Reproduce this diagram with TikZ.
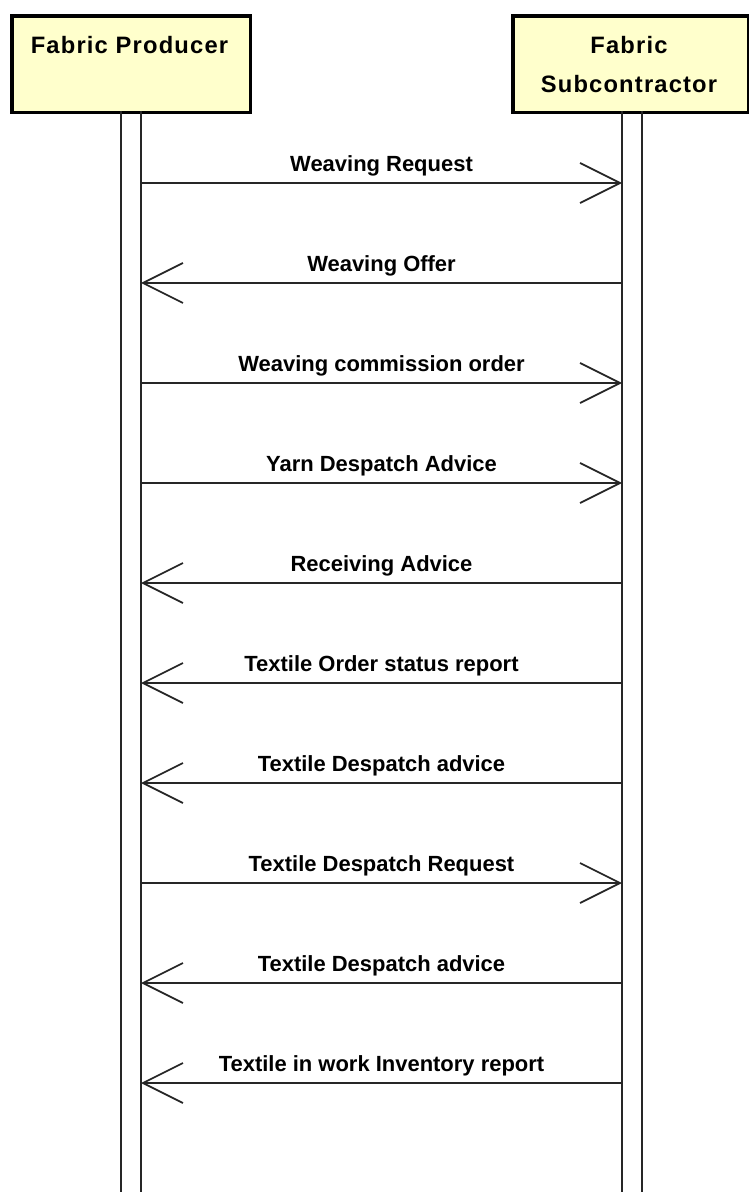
\documentclass[tikz,border=0pt]{standalone}
\usepackage{fontspec}
\setmainfont{Liberation Sans}
\usetikzlibrary{arrows.meta}
\definecolor{actorfill}{RGB}{255,255,204}
\tikzset{
  actor/.style={draw=black, line width=2pt, fill=actorfill, anchor=north west, minimum height=1.94cm},
  actortext/.style={font=\fontsize{13.5}{22}\selectfont\bfseries\addfontfeature{LetterSpace=5}, align=center, anchor=north, inner sep=0pt},
  lifeline/.style={draw=black!85, line width=1pt},
  msg/.style={draw=black!85, line width=1pt, -{Straight Barb[length=8mm,width=8mm,line width=1pt]}},
  msgtext/.style={font=\fontsize{12.5}{15}\selectfont\bfseries, midway, anchor=base, yshift=6.8pt, inner sep=0pt}
}
\begin{document}
\begin{tikzpicture}[x=0.02cm, y=-0.02cm]
\useasboundingbox (0,0) rectangle (749,1192);
\node[actor, minimum width=4.78cm] (producer) at (10,14) {};
\node[actor, minimum width=4.72cm] (subcontractor) at (511,14) {};
\node[actortext] (producername) at (129.5,36) {Fabric Producer};
\node[actortext] (subcontractorname) at (629,36) {Fabric\\Subcontractor};
\draw[lifeline] (121,111) -- (121,1192);
\draw[lifeline] (141,111) -- (141,1192);
\draw[lifeline] (622,111) -- (622,1192);
\draw[lifeline] (642,111) -- (642,1192);
\foreach \i in {1,...,10} {
  \coordinate (p\i) at (141,83+100*\i);
  \coordinate (s\i) at (622,83+100*\i);
}
\draw[msg] (p1) -- (s1) node[msgtext] (m1) {Weaving Request};
\draw[msg] (s2) -- (p2) node[msgtext] (m2) {Weaving Offer};
\draw[msg] (p3) -- (s3) node[msgtext] (m3) {Weaving commission order};
\draw[msg] (p4) -- (s4) node[msgtext] (m4) {Yarn Despatch Advice};
\draw[msg] (s5) -- (p5) node[msgtext] (m5) {Receiving Advice};
\draw[msg] (s6) -- (p6) node[msgtext] (m6) {Textile Order status report};
\draw[msg] (s7) -- (p7) node[msgtext] (m7) {Textile Despatch advice};
\draw[msg] (p8) -- (s8) node[msgtext] (m8) {Textile Despatch Request};
\draw[msg] (s9) -- (p9) node[msgtext] (m9) {Textile Despatch advice};
\draw[msg] (s10) -- (p10) node[msgtext] (m10) {Textile in work Inventory report};
\end{tikzpicture}
\end{document}
